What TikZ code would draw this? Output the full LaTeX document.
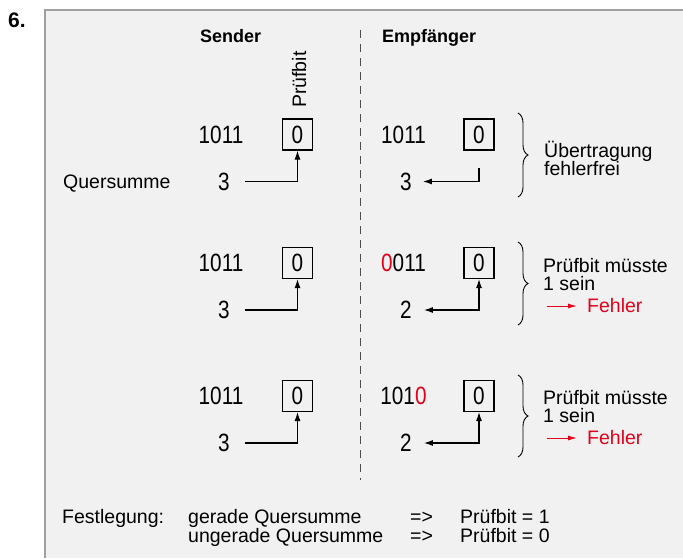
\documentclass[tikz,border=0pt]{standalone}
\usepackage{fontspec}
\setmainfont{Liberation Sans}
\newfontfamily\digitfont[FakeStretch=0.83]{Liberation Sans}
\usetikzlibrary{calc}
\usetikzlibrary{arrows.meta}
\usetikzlibrary{decorations.pathreplacing}
\definecolor{panelgray}{RGB}{241,241,241}
\definecolor{rimgray}{RGB}{160,160,160}
\definecolor{errred}{RGB}{226,0,26}
\newcommand{\lbl}{\fontsize{19.5}{22}\selectfont}
\newcommand{\dig}{\digitfont\fontsize{25}{27}\selectfont}

\begin{document}
\begin{tikzpicture}[x=1pt, y=-1pt,
  bitbox/.style={draw, line width=1.1pt, minimum width=30pt, minimum height=31pt, inner sep=0, font=\dig},
  num/.style={inner sep=0, font=\dig},
  txt/.style={anchor=base west, inner sep=0, font=\lbl},
  head/.style={anchor=base west, inner sep=0, font=\bfseries\fontsize{18}{20}\selectfont},
  flow/.style={line width=1.1pt, -{Latex[length=9pt,width=6pt]}},
  twoway/.style={line width=1.1pt, {Latex[length=9pt,width=6pt]}-{Latex[length=9pt,width=6pt]}},
  curly/.style={decorate, decoration={brace, amplitude=10pt}, line width=0.9pt},
]
\useasboundingbox (0,0) rectangle (683,558);
\fill[panelgray] (45,10) rectangle (683,558);
\draw[rimgray, line width=1.5pt] (683,10) -- (45,10) -- (45,558);
\node[anchor=base west, inner sep=0, font=\bfseries\fontsize{21}{22}\selectfont] (nr) at (8,27) {6.};

\node[head] (sender) at (200,42) {Sender};
\node[head] (empf) at (382,42) {Empfänger};
\draw[gray!60!black, line width=0.9pt, dash pattern=on 8pt off 6pt] (360,30) -- (360,480);

% Sender
\foreach \r/\y in {1/134.5, 2/263, 3/396} {
 \node[num] (s\r) at (221,\y) {1011};
 \node[bitbox] (sb\r) at (297.5,\y) {0};
 \node[num] (ss\r) at (224,{\y+47}) {3};
 \draw[flow] ([xshift=15pt]ss\r.east) -| (sb\r.south);
}
\node[txt, rotate=90] (pb) at (306,108) {Prüfbit};
\node[txt] (qs) at (63,188) {Quersumme};

% Empfaenger
\foreach \r/\y/\code/\qsum in {1/134.5/1011/3, 2/263/{\textcolor{errred}{0}011}/2, 3/396/{101\textcolor{errred}{0}}/2} {
 \node[num] (e\r) at (403.5,\y) {\code};
 \node[bitbox] (eb\r) at (479,\y) {0};
 \node[num] (es\r) at (406,{\y+47}) {\qsum};
}
\draw[flow] ([yshift=-17pt]eb1.south) |- ([xshift=11pt]es1.east);
\draw[twoway] (eb2.south) |- ([xshift=12pt]es2.east);
\draw[twoway] (eb3.south) |- ([xshift=12pt]es3.east);

% Klammern
\draw[curly] (518,113) -- (518,197);
\draw[curly] (518,242) -- (518,325);
\draw[curly] (518,375) -- (518,457);
\node[txt] (ok1) at (544,157) {Übertragung};
\node[txt] (ok2) at (544,175) {fehlerfrei};
\foreach \r/\y in {2/272, 3/404} {
 \node[txt] (m\r) at (543,\y) {Prüfbit müsste};
 \node[txt] (n\r) at (543,{\y+18}) {1 sein};
 \node[txt, text=errred] (f\r) at (587,{\y+40}) {Fehler};
 \coordinate (fa\r) at ($(f\r.base west)+(-40,-6)$);
 \draw[errred, line width=1pt, -{Latex[length=9pt,width=5pt]}] (fa\r) -- ++(30,0);
}

% Festlegung
\node[txt] (fest) at (62,523) {Festlegung:};
\node[txt] (ger) at (188,523) {gerade Quersumme};
\node[txt] (unger) at (188,542) {ungerade Quersumme};
\node[txt] (imp1) at (410,523) {=>};
\node[txt] (imp2) at (410,542) {=>};
\node[txt] (pb1) at (460,523) {Prüfbit = 1};
\node[txt] (pb0) at (460,542) {Prüfbit = 0};
\end{tikzpicture}
\end{document}
